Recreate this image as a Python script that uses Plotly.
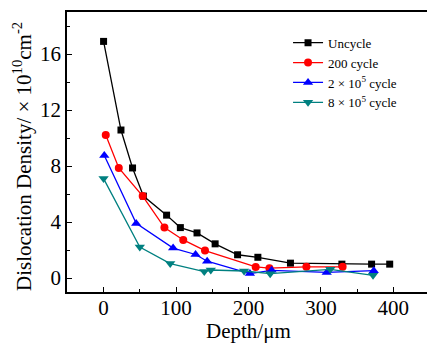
import plotly.graph_objects as go

# Data
unc_x = [0, 24, 40, 55, 87, 106, 129, 154, 185, 213, 258, 329, 370, 395]
unc_y = [16.9, 10.57, 7.86, 5.85, 4.49, 3.6, 3.22, 2.44, 1.66, 1.48, 1.06, 0.99, 0.99, 0.99]

c200_x = [3, 21, 54, 84, 110, 140, 210, 229, 280, 330]
c200_y = [10.21, 7.86, 5.85, 3.6, 2.72, 1.96, 0.79, 0.70, 0.80, 0.80]

c2e5_x = [1, 45, 96, 127, 143, 202, 232, 308, 373]
c2e5_y = [8.75, 3.9, 2.14, 1.68, 1.2, 0.32, 0.55, 0.4, 0.52]

c8e5_x = [0, 50, 92, 139, 148, 194, 230, 313, 372]
c8e5_y = [7.1, 2.21, 1.03, 0.46, 0.57, 0.5, 0.31, 0.62, 0.19]

names = ["Uncycle", "200 cycle", "2 × 10<sup>5</sup> cycle", "8 × 10<sup>5</sup> cycle"]
colors = ["#000000", "#FF0000", "#0000FF", "#008080"]
symbols = ["square", "circle", "triangle-up", "triangle-down"]
sizes = [7, 8, 9, 9]
xs = [unc_x, c200_x, c2e5_x, c8e5_x]
ys = [unc_y, c200_y, c2e5_y, c8e5_y]

x_title = "Depth/μm"
y_title = "Dislocation Density/ × 10<sup>10</sup>cm<sup>-2</sup>"

fig = go.Figure()
for n, c, s, sz, x, y in zip(names, colors, symbols, sizes, xs, ys):
    fig.add_trace(go.Scatter(
        x=x, y=y, name=n, mode="lines+markers",
        line=dict(color=c, width=1.3),
        marker=dict(symbol=s, color=c, size=sz, line=dict(width=0)),
    ))

font_fam = "Liberation Serif, Times New Roman, serif"
fig.update_layout(
    width=427, height=343,
    margin=dict(l=67, r=0, t=12, b=51, autoexpand=False),
    plot_bgcolor="white", paper_bgcolor="white",
    font=dict(family=font_fam, color="black", size=20),
    showlegend=True,
    legend=dict(
        x=0.614, y=0.944, xanchor="left", yanchor="top",
        font=dict(family=font_fam, size=13, color="black"),
        bgcolor="rgba(0,0,0,0)", tracegroupgap=0, itemwidth=30,
    ),
    xaxis=dict(
        range=[-50.5, 446.5], tickmode="array", tickvals=[0, 100, 200, 300, 400],
        ticks="inside", ticklen=5, tickwidth=1, tickcolor="black",
        minor=dict(tickvals=[50, 150, 250, 350], ticks="inside", ticklen=3, tickcolor="black"),
        showline=True, linecolor="black", linewidth=1.5, mirror=True,
        showgrid=False, zeroline=False, automargin=False,
        tickfont=dict(size=21), ticklabelstandoff=-4,
    ),
    yaxis=dict(
        range=[-1, 19], tickmode="array", tickvals=[0, 4, 8, 12, 16],
        ticks="inside", ticklen=5, tickwidth=1, tickcolor="black",
        minor=dict(tickvals=[2, 6, 10, 14, 18], ticks="inside", ticklen=3, tickcolor="black"),
        showline=True, linecolor="black", linewidth=1.5, mirror=False,
        showgrid=False, zeroline=False, automargin=False,
        tickfont=dict(size=21),
    ),
    annotations=[
        dict(text=x_title, xref="paper", yref="paper", x=(248 - 67) / 360, y=-(331 - 292) / 280,
             xanchor="center", yanchor="middle", showarrow=False, font=dict(size=21)),
        dict(text=y_title, xref="paper", yref="paper", x=-(67 - 23) / 360, y=(292 - 157) / 280,
             xanchor="center", yanchor="middle", textangle=-90, showarrow=False, font=dict(size=21)),
    ],
)

fig.write_html(
    "out.html",
    config={"displayModeBar": False},
    post_script="document.body.style.margin='0';document.body.style.padding='0';",
)
